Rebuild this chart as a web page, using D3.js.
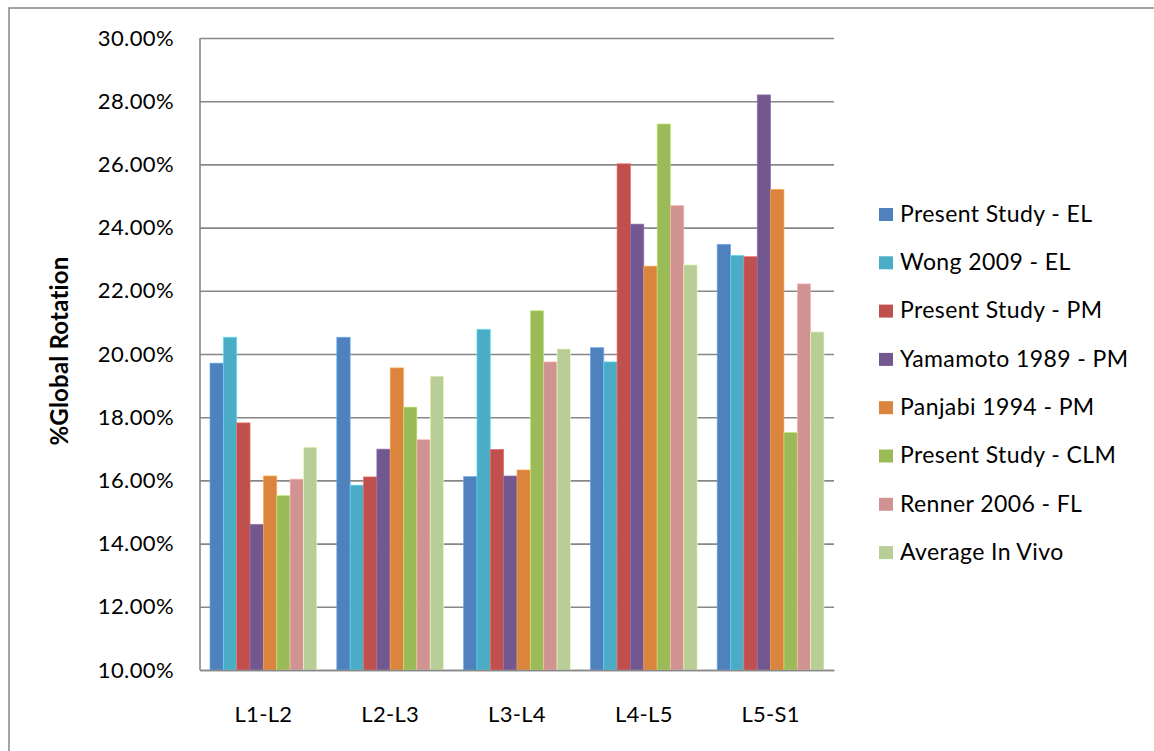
<!DOCTYPE html>
<html>
<head>
<meta charset="utf-8">
<script src="https://cdn.jsdelivr.net/npm/d3@7"></script>
<style>
  html, body { margin: 0; padding: 0; background: #fff; }
  svg { display: block; font-family: Lato, "Open Sans", sans-serif; }
</style>
</head>
<body>
<svg id="chart" width="1154" height="751"></svg>
<script>
// Spinal levels along the x axis
const categories = ["L1-L2", "L2-L3", "L3-L4", "L4-L5", "L5-S1"];

// Series names, in legend order
const seriesNames = [
  "Present Study - EL",
  "Wong 2009 - EL",
  "Present Study - PM",
  "Yamamoto 1989 - PM",
  "Panjabi 1994 - PM",
  "Present Study - CLM",
  "Renner 2006 - FL",
  "Average In Vivo"
];

// % of global rotation per level, one array per series
const presentStudyEL  = [19.71, 20.53, 16.12, 20.20, 23.47];
const wong2009EL      = [20.53, 15.85, 20.78, 19.75, 23.12];
const presentStudyPM  = [17.82, 16.11, 16.98, 26.02, 23.08];
const yamamoto1989PM  = [14.61, 16.99, 16.14, 24.11, 28.20];
const panjabi1994PM   = [16.14, 19.56, 16.33, 22.78, 25.21];
const presentStudyCLM = [15.52, 18.32, 21.37, 27.28, 17.52];
const renner2006FL    = [16.04, 17.29, 19.75, 24.70, 22.22];
const averageInVivo   = [17.05, 19.30, 20.16, 22.82, 20.70];

const seriesValues = [
  presentStudyEL, wong2009EL, presentStudyPM, yamamoto1989PM,
  panjabi1994PM, presentStudyCLM, renner2006FL, averageInVivo
];

const seriesColors = [
  "#4f81bd", "#4bacc6", "#c0504d", "#72588f",
  "#db843d", "#9bbb59", "#d19392", "#b9cd96"
];

// Y axis ticks (percent)
const yTicks = [10, 12, 14, 16, 18, 20, 22, 24, 26, 28, 30];

const svg = d3.select("#chart");
const plot = { left: 200, right: 834, top: 38, bottom: 670 };
const gridColor = "#878787";
const fontSize = 22;

// Outer chart frame (left and top edges)
svg.append("path")
  .attr("d", "M9,751 L9,8 L1154,8")
  .attr("fill", "none")
  .attr("stroke", gridColor)
  .attr("stroke-width", 1.5);

const x0 = d3.scaleBand()
  .domain(categories)
  .range([plot.left, plot.right])
  .padding(0);

// Bars inside a category: 150% gap width between groups
const x1 = d3.scaleBand()
  .domain(seriesNames)
  .range([0, x0.bandwidth()])
  .paddingInner(0)
  .paddingOuter(0.75);

const y = d3.scaleLinear()
  .domain([10, 30])
  .range([plot.bottom, plot.top]);

// Gridlines and y tick labels
const yAxis = svg.append("g")
  .attr("transform", `translate(${plot.left},0)`)
  .call(d3.axisLeft(y)
    .tickValues(yTicks)
    .tickSize(-(plot.right - plot.left))
    .tickPadding(26)
    .tickFormat(d => d3.format(".2f")(d) + "%"));
yAxis.select(".domain").remove();
yAxis.selectAll(".tick line")
  .attr("stroke", gridColor)
  .attr("stroke-width", 1.6);
yAxis.selectAll(".tick text")
  .attr("fill", "#000")
  .style("font-size", fontSize + "px")
  .style("letter-spacing", "0.4px")
  .style("font-family", "Lato, 'Open Sans', sans-serif");

// Bars
const groups = svg.append("g")
  .selectAll("g")
  .data(seriesNames)
  .join("g")
  .attr("fill", (d, i) => seriesColors[i]);

groups.selectAll("rect")
  .data((name, i) => categories.map((c, j) => ({ cat: c, value: seriesValues[i][j], name, color: seriesColors[i] })))
  .join("rect")
  .attr("x", d => x0(d.cat) + x1(d.name))
  .attr("y", d => y(d.value))
  .attr("width", x1.bandwidth())
  .attr("height", d => y(10) - y(d.value))
  .attr("stroke", d => d3.color(d.color).brighter(0.7))
  .attr("stroke-width", 0.8)
  .attr("stroke-opacity", 0.8);

// Axis lines
svg.append("line")
  .attr("x1", plot.left).attr("x2", plot.left)
  .attr("y1", plot.top).attr("y2", plot.bottom)
  .attr("stroke", gridColor).attr("stroke-width", 1.6);

const xAxis = svg.append("g")
  .attr("transform", `translate(0,${plot.bottom})`)
  .call(d3.axisBottom(x0).tickSize(0).tickPadding(36));
xAxis.select(".domain")
  .attr("stroke", gridColor)
  .attr("stroke-width", 1.6);
xAxis.selectAll(".tick text")
  .attr("fill", "#000")
  .style("font-size", fontSize + "px")
  .style("letter-spacing", "0.3px")
  .style("font-family", "Lato, 'Open Sans', sans-serif");

// Y axis title
svg.append("text")
  .attr("transform", `translate(68,351) rotate(-90)`)
  .attr("text-anchor", "middle")
  .style("font-size", "24px")
  .style("font-weight", "bold")
  .style("letter-spacing", "0.2px")
  .text("%Global Rotation");

// Legend
const legend = svg.append("g")
  .attr("transform", "translate(879,0)");
const rowStep = 48.3;
const legendRows = legend.selectAll("g")
  .data(seriesNames)
  .join("g")
  .attr("transform", (d, i) => `translate(0,${213.5 + i * rowStep})`);
legendRows.append("rect")
  .attr("x", 0).attr("y", -5.5)
  .attr("width", 14).attr("height", 13)
  .attr("fill", (d, i) => seriesColors[i]);
legendRows.append("text")
  .attr("x", 21)
  .attr("y", 8.3)
  .style("font-size", "23px")
  .style("letter-spacing", "0.4px")
  .text(d => d);
</script>
</body>
</html>
